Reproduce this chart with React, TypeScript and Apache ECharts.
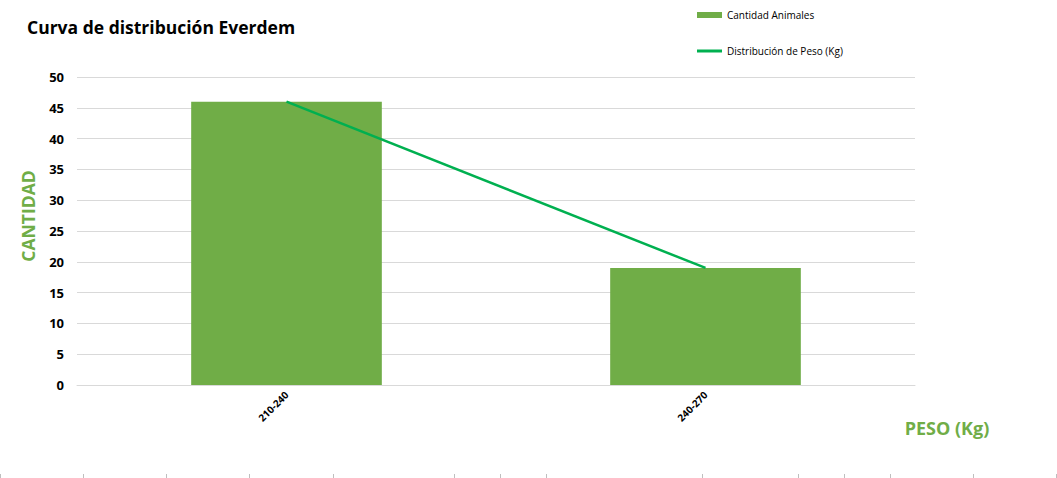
import React, { useEffect, useRef } from "react";
import * as echarts from "echarts";

const categories = ["210-240", "240-270"];
const cantidadAnimales = [46, 19];
const distribucionPeso = [46, 19];
const yTicks = { min: 0, max: 50, interval: 5 };
const cellTickXs = [0, 83, 166, 249, 333, 454, 500, 546, 702, 798, 844, 890, 973, 1056];

const FONT = "'Open Sans', 'Noto Sans', sans-serif";

export default function App() {
  const ref = useRef<HTMLDivElement>(null);
  useEffect(() => {
    if (!ref.current) return;
    const chart = echarts.init(ref.current, null, { renderer: "svg" });
    chart.setOption({
      animation: false,
      backgroundColor: "#ffffff",
      textStyle: { fontFamily: FONT },
      title: {
        text: "Curva de distribución Everdem",
        left: 22,
        top: 13,
        textStyle: { fontSize: 17.5, fontWeight: "bold", color: "#000000", fontFamily: FONT },
      },
      legend: [
        {
          data: [{ name: "Cantidad Animales", icon: "rect" }],
          left: 697,
          top: 10,
          padding: 0,
          itemWidth: 25,
          itemHeight: 6,
          itemGap: 4,
          textStyle: { fontSize: 10, color: "#000000", fontFamily: FONT },
        },
        {
          data: [{ name: "Distribución de Peso (Kg)", icon: "rect" }],
          left: 697,
          top: 46,
          padding: 0,
          itemWidth: 25,
          itemHeight: 3,
          textStyle: { fontSize: 10, color: "#000000", fontFamily: FONT },
        },
      ],
      grid: { left: 77, right: 142, top: 77, bottom: 93, containLabel: false },
      xAxis: {
        type: "category",
        data: categories,
        axisLine: { lineStyle: { color: "#D9D9D9" } },
        axisTick: { show: false },
        axisLabel: {
          rotate: 45,
          margin: 8,
          fontSize: 10,
          fontWeight: "bold",
          color: "#000000",
          fontFamily: FONT,
        },
      },
      yAxis: {
        type: "value",
        min: yTicks.min,
        max: yTicks.max,
        interval: yTicks.interval,
        axisLine: { show: false },
        axisTick: { show: false },
        splitLine: { lineStyle: { color: "#D9D9D9" } },
        axisLabel: {
          margin: 13,
          fontSize: 13,
          fontWeight: "bold",
          color: "#000000",
          fontFamily: FONT,
        },
      },
      series: [
        {
          name: "Cantidad Animales",
          type: "bar",
          data: cantidadAnimales,
          barWidth: "45.5%",
          itemStyle: { color: "#70AD47" },
        },
        {
          name: "Distribución de Peso (Kg)",
          type: "line",
          data: distribucionPeso,
          showSymbol: false,
          symbol: "none",
          lineStyle: { color: "#00B050", width: 2.5 },
          itemStyle: { color: "#00B050" },
        },
      ],
      graphic: [
        {
          type: "text",
          x: 28,
          y: 216,
          rotation: Math.PI / 2,
          style: {
            text: "CANTIDAD",
            fill: "#70AD47",
            font: `bold 17.5px ${FONT}`,
            align: "center",
            verticalAlign: "middle",
          },
        },
        {
          type: "text",
          x: 947,
          y: 428,
          style: {
            text: "PESO (Kg)",
            fill: "#70AD47",
            font: `bold 18px ${FONT}`,
            align: "center",
            verticalAlign: "middle",
          },
        },
        ...cellTickXs.map((x) => ({
          type: "line",
          shape: { x1: x + 0.5, y1: 474, x2: x + 0.5, y2: 478 },
          style: { stroke: "#BFBFBF", lineWidth: 1 },
        })),
      ],
    });
    return () => chart.dispose();
  }, []);
  return (
    <div
      ref={ref}
      style={{ position: "fixed", left: 0, top: 0, width: 1057, height: 478 }}
    />
  );
}
